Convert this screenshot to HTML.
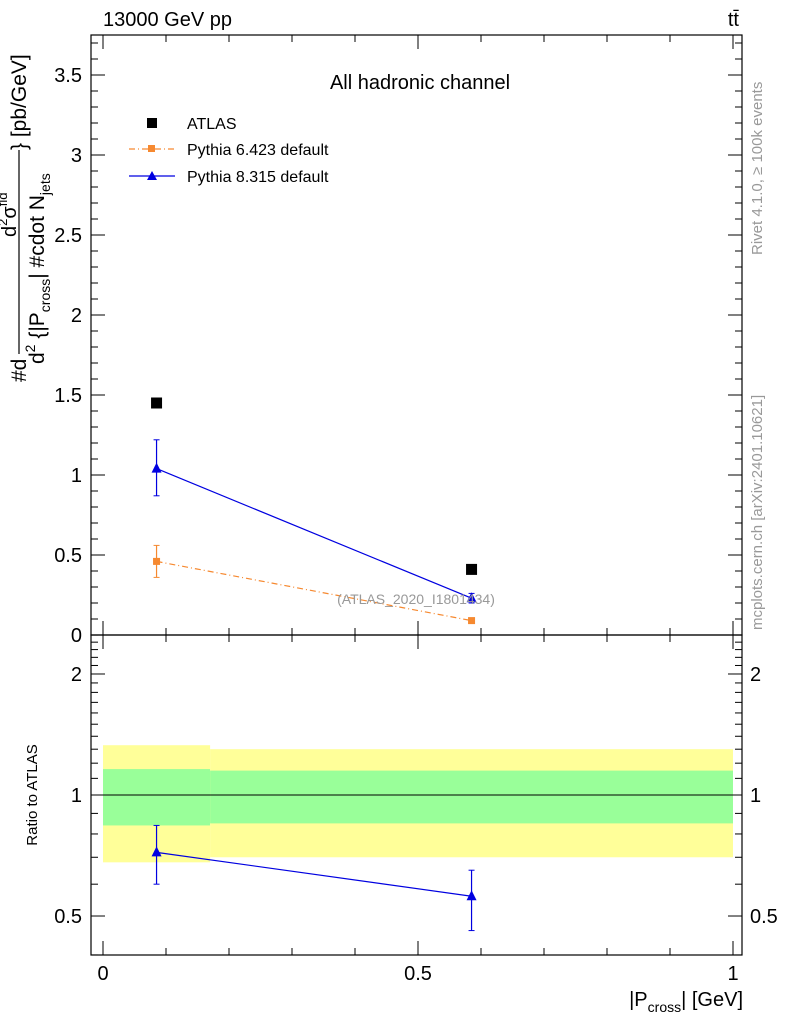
<!DOCTYPE html>
<html><head><meta charset="utf-8"><style>
body{margin:0;background:#fff;}
svg{font-family:"Liberation Sans",sans-serif;display:block}
</style></head><body>
<svg id="c" width="786" height="1024" viewBox="0 0 786 1024">
<rect x="0" y="0" width="786" height="1024" fill="#fff"/>
<g id="bands"></g>
<g id="axes"></g>
<g id="marks"></g>
<text x="103" y="26" font-size="20">13000 GeV pp</text>
<text x="739" y="26" font-size="20" text-anchor="end">tt̄</text>
<text x="420" y="89" font-size="20" text-anchor="middle">All hadronic channel</text>
<g>
<rect x="147" y="118" width="10" height="10" fill="#000"/>
<text x="187" y="129" font-size="16">ATLAS</text>
<line x1="129" y1="149" x2="175" y2="149" stroke="#f68930" stroke-width="1.2" stroke-dasharray="6,3,1,3"/>
<rect x="148" y="145" width="7" height="7" fill="#f68930"/>
<text x="187" y="155" font-size="16">Pythia 6.423 default</text>
<line x1="129" y1="176" x2="175" y2="176" stroke="#0000e0" stroke-width="1.2"/>
<polygon points="152,171 157,180 147,180" fill="#0000e0"/>
<text x="187" y="182" font-size="16">Pythia 8.315 default</text>
</g>
<text x="416" y="604" font-size="14" fill="#999" text-anchor="middle">(ATLAS_2020_I1801434)</text>
<text transform="translate(762,255) rotate(-90)" font-size="15" fill="#999">Rivet 4.1.0, ≥ 100k events</text>
<text transform="translate(762,630) rotate(-90)" font-size="15" fill="#999">mcplots.cern.ch [arXiv:2401.10621]</text>
<g transform="translate(26,382) rotate(-90)">
<text x="0" y="0" font-size="21">#d</text>
<text x="145" y="-10" font-size="20">d<tspan font-size="13" dy="-9">2</tspan><tspan dy="9">σ</tspan><tspan font-size="13" dy="-9">fid</tspan></text>
<line x1="28" y1="-7" x2="232" y2="-7" stroke="#000" stroke-width="1.2"/>
<text x="18" y="18" font-size="21">d<tspan font-size="14" dy="-9">2</tspan><tspan dy="9"> {|P</tspan><tspan font-size="14" dy="6">cross</tspan><tspan dy="-6">| #cdot N</tspan><tspan font-size="14" dy="6">jets</tspan></text>
<text x="232" y="0" font-size="21">} [pb/GeV]</text>
</g>
<text transform="translate(37,795) rotate(-90)" font-size="15" text-anchor="middle">Ratio to ATLAS</text>
<text x="743" y="1006" font-size="20" text-anchor="end">|P<tspan font-size="14" dy="6">cross</tspan><tspan dy="-6">| [GeV]</tspan></text>
</svg>
<script>
const binEdges=[0,0.17,1];
const xVals=[0.085,0.585];
const atlas=[1.45,0.41];
const p6=[0.46,0.09];
const p6Lo=[0.36,0.08];
const p6Hi=[0.56,0.10];
const p8=[1.04,0.23];
const p8Lo=[0.87,0.20];
const p8Hi=[1.22,0.26];
const r8=[0.72,0.56];
const r8Lo=[0.60,0.46];
const r8Hi=[0.84,0.65];
const yelLo=[0.68,0.70];
const yelHi=[1.33,1.30];
const grnLo=[0.84,0.85];
const grnHi=[1.16,1.15];
const xTicks=[0,0.5,1];
const yTicks=[0.5,1,1.5,2,2.5,3,3.5];
const rTicks=[0.5,1,2];

const NS="http://www.w3.org/2000/svg";
const L=91,R=742,T=35,M=635,B=955;
const X=v=>103+v*630;
const Y=v=>635-v*160;
const RY=v=>795-Math.log10(v)*402;
function mk(tag,at,parent){const e=document.createElementNS(NS,tag);for(const k in at)e.setAttribute(k,at[k]);document.getElementById(parent).appendChild(e);return e;}

for(let i=0;i<2;i++){
 let e=mk('rect',{x:X(binEdges[i]),y:RY(yelHi[i]),width:X(binEdges[i+1])-X(binEdges[i]),height:RY(yelLo[i])-RY(yelHi[i]),fill:'#ffff99'},'bands');
 
 
 e=mk('rect',{x:X(binEdges[i]),y:RY(grnHi[i]),width:X(binEdges[i+1])-X(binEdges[i]),height:RY(grnLo[i])-RY(grnHi[i]),fill:'#99ff99'},'bands');
 
 
}
let one=mk('line',{x1:L,x2:R,y1:RY(1),y2:RY(1),stroke:'#000','stroke-width':1},'bands');



for(const [y1,y2,n] of [[T,M,'main-frame'],[M,B,'ratio-frame']]){
 const e=mk('rect',{x:L,y:y1,width:R-L,height:y2-y1,fill:'none',stroke:'#000','stroke-width':1.2},'axes');
 
 
}
function tick(x1,y1,x2,y2){mk('line',{x1,y1,x2,y2,stroke:'#000','stroke-width':1},'axes');}
for(let v=0;v<=1.2001;v+=0.1){const x=X(v);if(x>R)break;const maj=Math.abs(v*2-Math.round(v*2))<1e-6;const len=maj?14:7;
 tick(x,M,x,M-len);tick(x,T,x,T+len);tick(x,B,x,B-len);tick(x,M,x,M+len);}
for(const v of xTicks){const t=mk('text',{x:X(v),y:980,'font-size':20,'text-anchor':'middle'},'axes');t.textContent=v;
 }
for(let i=0;i<=37;i++){const v=i/10,y=Y(v);if(y<T)break;const maj=i%5==0;const len=maj?14:7;tick(L,y,L+len,y);tick(R,y,R-len,y);}
for(const v of yTicks.concat([0])){const t=mk('text',{x:82,y:Y(v)+7,'font-size':20,'text-anchor':'end'},'axes');t.textContent=v;
 }
for(let i=4;i<=25;i++){const v=i/10,y=RY(v);const maj=[5,10,20].includes(i);const len=maj?14:7;tick(L,y,L+len,y);tick(R,y,R-len,y);}
for(const v of rTicks){for(const [x,a] of [[82,'end'],[750,'start']]){const t=mk('text',{x,y:RY(v)+7,'font-size':20,'text-anchor':a},'axes');t.textContent=v;
 }}

function poly(pts,col,dash,name){const e=mk('polyline',{points:pts.map(p=>p.join(',')).join(' '),fill:'none',stroke:col,'stroke-width':1.2,'stroke-dasharray':dash||'none'},'marks');
 }
poly(xVals.map((x,i)=>[X(x),Y(p6[i])]),'#f68930','6,3,1,3','pythia6-line');
poly(xVals.map((x,i)=>[X(x),Y(p8[i])]),'#0000e0',null,'pythia8-line');
poly(xVals.map((x,i)=>[X(x),RY(r8[i])]),'#0000e0',null,'pythia8-ratio-line');
function err(x,lo,hi,col){mk('line',{x1:x,x2:x,y1:lo,y2:hi,stroke:col,'stroke-width':1.2},'marks');mk('line',{x1:x-3,x2:x+3,y1:lo,y2:lo,stroke:col},'marks');mk('line',{x1:x-3,x2:x+3,y1:hi,y2:hi,stroke:col},'marks');}
function tri(x,y,col,name){const e=mk('polygon',{points:`${x},${y-6} ${x+5},${y+4} ${x-5},${y+4}`,fill:col},'marks');}
xVals.forEach((xv,i)=>{
 const x=X(xv);
 let e=mk('rect',{x:x-5.5,y:Y(atlas[i])-5.5,width:11,height:11,fill:'#000'},'marks');
 
 
 err(x,Y(p6Lo[i]),Y(p6Hi[i]),'#f68930');
 e=mk('rect',{x:x-3.5,y:Y(p6[i])-3.5,width:7,height:7,fill:'#f68930'},'marks');
 
 
 err(x,Y(p8Lo[i]),Y(p8Hi[i]),'#0000e0');
 tri(x,Y(p8[i]),'#0000e0','pythia8-point');
 err(x,RY(r8Lo[i]),RY(r8Hi[i]),'#0000e0');
 tri(x,RY(r8[i]),'#0000e0','pythia8-ratio-point');
});
</script>
</body></html>
